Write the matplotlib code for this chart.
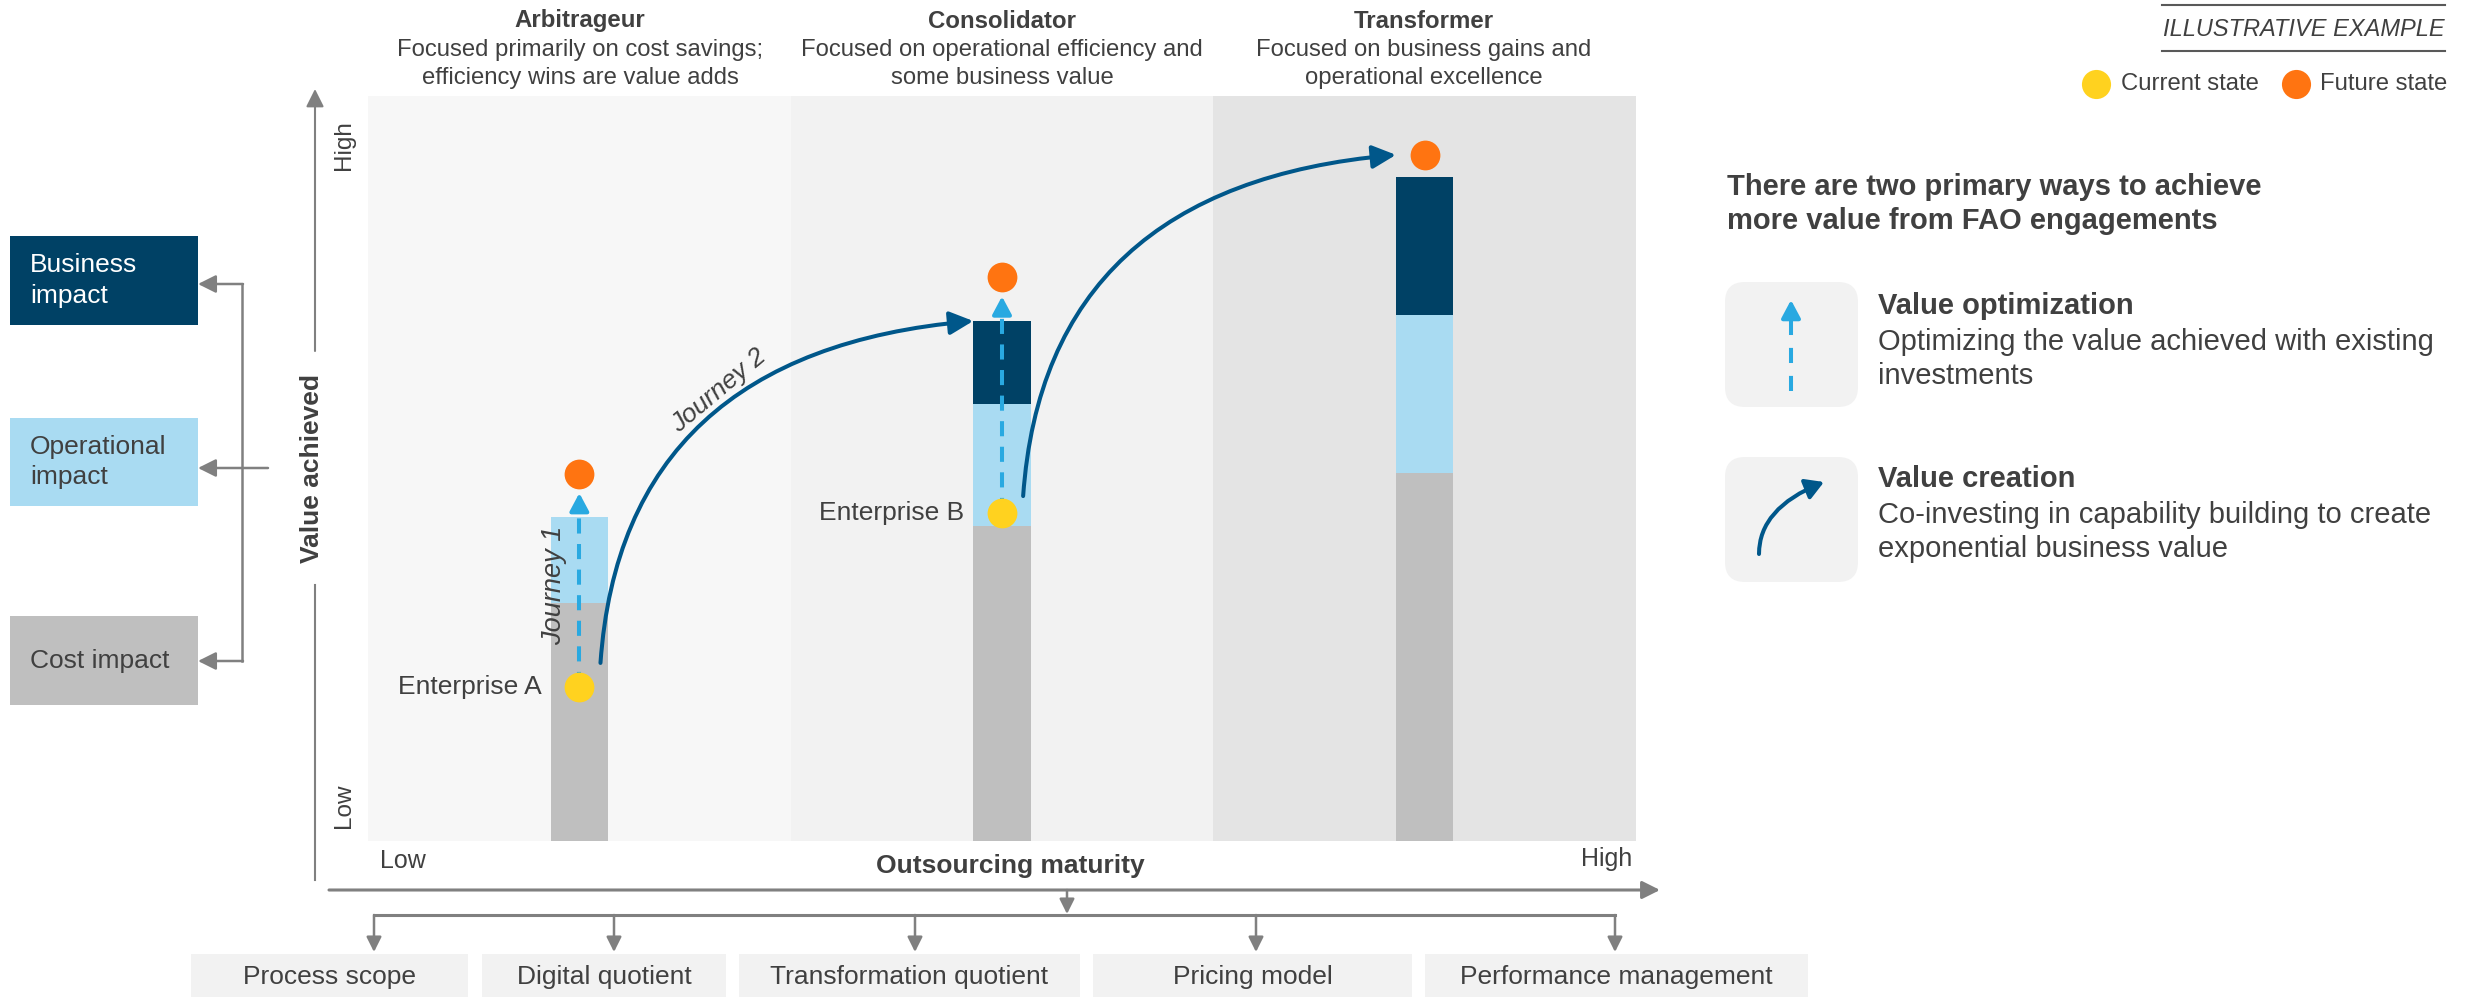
import matplotlib
matplotlib.use("Agg")
import matplotlib.pyplot as plt
from matplotlib.patches import Rectangle, FancyBboxPatch, FancyArrowPatch

plt.rcParams['font.family'] = ['Liberation Sans', 'DejaVu Sans']

W, H = 2466, 997
TXT = "#404040"
GREY_LINE = "#808080"
GREY = "#bfbfbf"
LBLUE = "#a9dbf2"
NAVY = "#004165"
CURVE = "#00578a"
DASH = "#29a9e1"
YELLOW = "#ffd21f"
ORANGE = "#ff7411"

# maturity stages
stages = ["Arbitrageur", "Consolidator", "Transformer"]
stage_notes = ["Focused primarily on cost savings;\nefficiency wins are value adds",
               "Focused on operational efficiency and\nsome business value",
               "Focused on business gains and\noperational excellence"]
panel_colors = ["#f7f7f7", "#f2f2f2", "#e4e4e4"]

# value achieved per stage (0-100 scale), stacked
cost_val = [31.9, 42.3, 49.4]
oper_val = [11.6, 16.4, 21.2]
bus_val = [0.0, 11.1, 18.5]
current_val = [20.7, 44.0]          # Enterprise A, Enterprise B
future_val = [49.3, 75.7, 92.1]
enterprises = ["Enterprise A", "Enterprise B"]
curve_start = [23.9, 46.3]          # where the journey curves leave each bar

impacts = ["Business\nimpact", "Operational\nimpact", "Cost impact"]
impact_colors = [NAVY, LBLUE, GREY]
impact_text = ["white", TXT, TXT]
levers = ["Process scope", "Digital quotient", "Transformation quotient",
          "Pricing model", "Performance management"]

fig = plt.figure(figsize=(W / 100, H / 100), dpi=100)

# ---------- overlay in pixel coordinates ----------
ov = fig.add_axes([0, 0, 1, 1])
ov.set_xlim(0, W)
ov.set_ylim(H, 0)
ov.axis('off')


def arrow(a, xy_from, xy_to, lw=2.2, color=GREY_LINE, ms=18, hw=0.3):
    a.annotate('', xy=xy_to, xytext=xy_from,
               arrowprops=dict(arrowstyle='-|>,head_length=0.6,head_width=%g' % hw,
                               color=color, lw=lw, shrinkA=0, shrinkB=0,
                               mutation_scale=ms))


# impact boxes on the left
box_rows = [(236, 325), (418, 506), (616, 705)]
for (y0, y1), lab, fc, tc in zip(box_rows, impacts, impact_colors, impact_text):
    ov.add_patch(Rectangle((10, y0), 188, y1 - y0, color=fc, lw=0))
    ov.text(30, (y0 + y1) / 2, lab, color=tc, fontsize=19, va='center',
            ha='left', linespacing=1.32)

ov.plot([242, 242], [284, 661], color=GREY_LINE, lw=1.8)
arrow(ov, (243, 284), (198, 284), lw=1.8)
arrow(ov, (268, 468), (198, 468), lw=1.8)
arrow(ov, (243, 661), (198, 661), lw=1.8)

# vertical value axis
ov.plot([315, 315], [880, 585], color=GREY_LINE, lw=1.5)
arrow(ov, (315, 351), (315, 89), lw=1.5)
ov.text(312, 468, "Value achieved", rotation=90, fontsize=19, fontweight='bold',
        color=TXT, ha='center', va='center')
ov.text(344, 145, "High", rotation=90, fontsize=17.5, color=TXT,
        ha='center', va='center')
ov.text(344, 806, "Low", rotation=90, fontsize=17.5, color=TXT,
        ha='center', va='center')

# horizontal maturity axis
ov.text(380, 861, "Low", fontsize=18, color=TXT, ha='left', va='center')
ov.text(1632, 859, "High", fontsize=18, color=TXT, ha='right', va='center')
ov.text(1010, 866, "Outsourcing maturity", fontsize=19, fontweight='bold',
        color=TXT, ha='center', va='center')
arrow(ov, (329, 890), (1660, 890), lw=2.2)

# lever bracket
arrow(ov, (1067, 890), (1067, 914), lw=1.8, ms=15)
ov.plot([374, 1615], [915, 915], color=GREY_LINE, lw=2.2)
lever_x = [374, 614, 915, 1256, 1615]
for lx in lever_x:
    arrow(ov, (lx, 915), (lx, 952), lw=1.8, ms=15)
lever_boxes = [(191, 468), (482, 726), (739, 1080), (1093, 1412), (1425, 1808)]
for (x0, x1), lab in zip(lever_boxes, levers):
    ov.add_patch(Rectangle((x0, 954), x1 - x0, H - 954, color="#f2f2f2", lw=0))
    ov.text((x0 + x1) / 2, 977, lab, fontsize=19, color=TXT,
            ha='center', va='center')

# stage headers
panel_cx = [580, 1002, 1424]
for cx, name, note in zip(panel_cx, stages, stage_notes):
    ov.text(cx, 21, name, fontsize=17.3, fontweight='bold', color=TXT,
            ha='center', va='center')
    ov.text(cx, 64, note, fontsize=17.2, color=TXT, ha='center', va='center',
            linespacing=1.32)

# legend, top right
ov.plot([2162, 2445], [5, 5], color="#595959", lw=1.5)
ov.plot([2162, 2445], [51, 51], color="#595959", lw=1.5)
ov.text(2445, 29, "ILLUSTRATIVE EXAMPLE", fontsize=17, fontstyle='italic',
        color=TXT, ha='right', va='center')
ov.scatter([2096], [84], s=440, color=YELLOW, lw=0)
ov.scatter([2296], [84], s=440, color=ORANGE, lw=0)
ov.text(2121, 84, "Current state", fontsize=17.2, color=TXT, va='center')
ov.text(2320, 84, "Future state", fontsize=17.2, color=TXT, va='center')

# right-hand explanation
ov.text(1727, 204, "There are two primary ways to achieve\nmore value from FAO engagements",
        fontsize=21, fontweight='bold', color=TXT, va='center', linespacing=1.3)
for y0 in (282, 457):
    ov.add_patch(FancyBboxPatch((1725 + 20, y0 + 20), 133 - 40, 125 - 40,
                                boxstyle="round,pad=20", color="#f2f2f2", lw=0))
ov.plot([1791, 1791], [391, 318], color=DASH, lw=2.9, ls=(0, (3.75, 3.2)))
arrow(ov, (1791, 318), (1791, 300), lw=2.9, color=DASH, ms=18, hw=0.32)
ov.add_patch(FancyArrowPatch((1759, 554), (1824, 482),
                             connectionstyle="angle3,angleA=90,angleB=22",
                             arrowstyle='-|>,head_length=0.6,head_width=0.35',
                             mutation_scale=18, color=CURVE, lw=2.9,
                             shrinkA=0, shrinkB=0))
ov.text(1878, 306, "Value optimization", fontsize=21, fontweight='bold',
        color=TXT, va='center')
ov.text(1878, 359, "Optimizing the value achieved with existing\ninvestments",
        fontsize=21, color=TXT, va='center', linespacing=1.3)
ov.text(1878, 479, "Value creation", fontsize=21, fontweight='bold',
        color=TXT, va='center')
ov.text(1878, 532, "Co-investing in capability building to create\nexponential business value",
        fontsize=21, color=TXT, va='center', linespacing=1.3)

# ---------- main chart ----------
ax = fig.add_axes([368 / W, (H - 841) / H, 1268 / W, 745 / H])
ax.set_xlim(0, 3)
ax.set_ylim(0, 100)
ax.axis('off')

for i, c in enumerate(panel_colors):
    ax.axvspan(i, i + 1, color=c, lw=0, zorder=0)

xs = [0.5, 1.5, 2.5]
bw = 0.136
mid = [c + o for c, o in zip(cost_val, oper_val)]
ax.bar(xs, cost_val, bw, color=GREY, zorder=1)
ax.bar(xs, oper_val, bw, bottom=cost_val, color=LBLUE, zorder=1)
ax.bar(xs, bus_val, bw, bottom=mid, color=NAVY, zorder=1)

# value optimization: dashed path from current to future state
for x, y0, y1 in zip(xs, current_val, future_val):
    tip = y1 - 2.6
    ax.plot([x, x], [y0, tip - 1.6], color=DASH, lw=2.9, ls=(0, (3.75, 2.6)), zorder=2)
    ax.annotate('', xy=(x, tip), xytext=(x, tip - 2.0),
                arrowprops=dict(arrowstyle='-|>,head_length=0.6,head_width=0.32',
                                color=DASH, lw=2.9, shrinkA=0, shrinkB=0,
                                mutation_scale=18), zorder=2)

# value creation: journeys to the next stage
ends = [mid[1] + bus_val[1], future_val[2]]
for i in range(2):
    ax.add_patch(FancyArrowPatch((xs[i] + 0.05, curve_start[i]),
                                 (xs[i + 1] - bw / 2, ends[i]),
                                 connectionstyle="angle3,angleA=86,angleB=5",
                                 arrowstyle='-|>,head_length=0.65,head_width=0.32',
                                 mutation_scale=22, color=CURVE, lw=2.9,
                                 shrinkA=0, shrinkB=0, zorder=3))

ax.scatter(xs[:2], current_val, s=460, color=YELLOW, lw=0, zorder=4)
ax.scatter(xs, future_val, s=460, color=ORANGE, lw=0, zorder=4)
for x, y, lab in zip(xs, current_val, enterprises):
    ax.text(x - 0.09, y, lab, fontsize=19, color=TXT, ha='right', va='center')

ax.text(0.83, 60.5, "Journey 2", fontsize=19, fontstyle='italic', color=TXT,
        rotation=40, ha='center', va='center')
ax.text(0.44, 34.3, "Journey 1", fontsize=19.5, fontstyle='italic', color=TXT,
        rotation=90, ha='center', va='center')

fig.savefig("out.png", dpi=100)
